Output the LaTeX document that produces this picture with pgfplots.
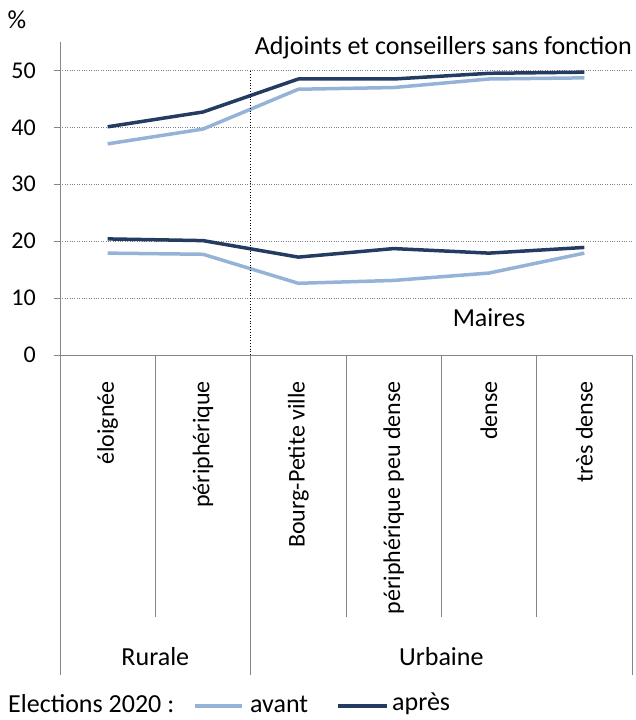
\documentclass[border=0pt]{standalone}
\usepackage{fontspec}
\setmainfont{Carlito}
\usepackage{pgfplots}
\pgfplotsset{compat=1.18}
\definecolor{avant}{RGB}{149,179,215}
\definecolor{apres}{RGB}{36,60,98}
\definecolor{axgray}{RGB}{134,134,134}

\begin{document}
\fontsize{26}{30}\selectfont
\begin{tikzpicture}
\useasboundingbox (0pt,0pt) rectangle (636pt,720pt);
\begin{axis}[
  at={(60pt,365pt)}, anchor=south west,
  scale only axis, width=572pt, height=313pt,
  xmin=-0.5, xmax=5.5, ymin=0, ymax=55,
  axis x line*=bottom, axis y line*=left,
  axis line style={-, axgray, line width=0.8pt},
  xtick={0,...,5},
  xticklabels={éloignée, périphérique, Bourg-Petite ville, périphérique peu dense, dense, très dense},
  xtick style={draw=none},
  xticklabel style={rotate=90, anchor=east, inner sep=0pt, font=\fontsize{24}{28}\selectfont},
  xticklabel shift=20pt,
  ytick={0,10,...,50},
  ytick style={axgray, line width=0.8pt},
  tick align=outside, major tick length=6pt,
  yticklabel style={inner sep=0pt, xshift=-18pt, font=\fontsize{24}{28}\selectfont},
  /pgf/number format/assume math mode=true,
  ymajorgrids, grid style={dotted, gray, line width=0.8pt},
  every axis plot/.append style={line width=3.5pt, line join=round},
  clip=false,
]
% Adjoints et conseillers sans fonction
\addplot[avant] coordinates {(0,37.1) (1,39.7) (2,46.7) (3,47.0) (4,48.5) (5,48.7)};
\addplot[apres] coordinates {(0,40.1) (1,42.7) (2,48.5) (3,48.5) (4,49.5) (5,49.7)};
% Maires
\addplot[avant] coordinates {(0,17.9) (1,17.7) (2,12.6) (3,13.1) (4,14.4) (5,17.9)};
\addplot[apres] coordinates {(0,20.4) (1,20.1) (2,17.2) (3,18.7) (4,17.9) (5,18.9)};

% separation rurale / urbaine
\draw[black, dotted, line width=0.8pt] (axis cs:1.5,0) -- (axis cs:1.5,50);

% category dividers below the axis
\draw[axgray, line width=0.8pt] (axis cs:-0.5,0) -- ++(0pt,-320pt);
\draw[axgray, line width=0.8pt] (axis cs:1.5,0) -- ++(0pt,-320pt);
\draw[axgray, line width=0.8pt] (axis cs:5.5,0) -- ++(0pt,-320pt);
\draw[axgray, line width=0.8pt] (axis cs:0.5,0) -- ++(0pt,-262pt);
\draw[axgray, line width=0.8pt] (axis cs:2.5,0) -- ++(0pt,-262pt);
\draw[axgray, line width=0.8pt] (axis cs:3.5,0) -- ++(0pt,-262pt);
\draw[axgray, line width=0.8pt] (axis cs:4.5,0) -- ++(0pt,-262pt);

\node[anchor=east, inner sep=0pt] at (axis cs:5.5,54) {Adjoints et conseillers sans fonction};
\node[inner sep=0pt] at (axis cs:4,6.5) {Maires};
\node[inner sep=0pt, yshift=-302pt] at (axis cs:0.5,0) {Rurale};
\node[inner sep=0pt, yshift=-302pt] at (axis cs:3.5,0) {Urbaine};
\end{axis}

\node[inner sep=0pt] at (17pt,700pt) {\%};

% legend
\node[anchor=west, inner sep=0pt] at (8pt,16pt) {Elections 2020 :};
\draw[avant, line width=3.5pt] (195pt,14pt) -- (242pt,14pt);
\node[anchor=west, inner sep=0pt] at (250pt,16pt) {avant};
\draw[apres, line width=3.5pt] (338pt,14pt) -- (387pt,14pt);
\node[anchor=west, inner sep=0pt] at (392pt,16pt) {après};
\end{tikzpicture}
\end{document}
